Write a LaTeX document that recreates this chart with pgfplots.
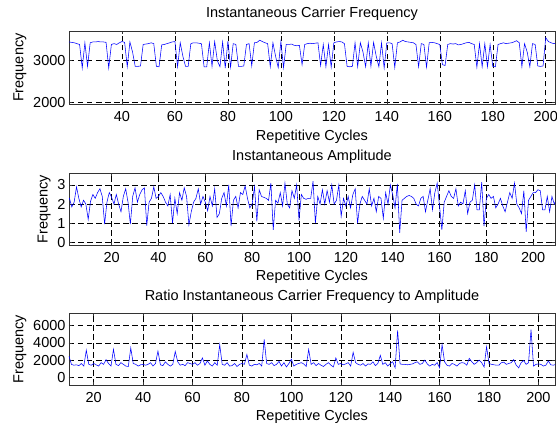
\documentclass[border=0pt]{standalone}
\usepackage{fontspec}
\setmainfont{Liberation Sans}
\usepackage{pgfplots}
\pgfplotsset{compat=1.18}

\definecolor{sigblue}{rgb}{0,0,1}
\pgfplotsset{
  sigpanel/.style={
    scale only axis, width=486pt, height=72pt, anchor=south west,
    font=\fontsize{14.5}{17}\selectfont,
    /pgf/number format/assume math mode=true,
    /pgf/number format/1000 sep={},
    scaled y ticks=false, scaled x ticks=false,
    no markers,
    grid=major,
    major grid style={black, line width=0.5pt, dash pattern=on 5.5pt off 3.5pt},
    axis line style={black!80, line width=0.6pt},
    tick style={black!80, line width=0.5pt},
    tick align=inside, major tick length=3pt,
    title style={anchor=base, yshift=7pt},
    xlabel style={at={(axis description cs:0.5,0)}, anchor=base, yshift=-36pt},
    xticklabel style={anchor=base, yshift=-17.5pt},
    xlabel={Repetitive Cycles}, ylabel={Frequency},
  },
  sig/.style={color=sigblue, line width=0.55pt, mark=none},
}

\begin{document}
\begin{tikzpicture}[x=1pt,y=1pt]
\path[use as bounding box] (0,0) rectangle (557,427);

% carrier frequency
\begin{axis}[sigpanel, at={(69pt,322.7pt)}, height=73.3pt,
  xmin=20, xmax=203.5, ymin=1960, ymax=3700,
  xtick={40,60,...,200}, ytick={2000,3000},
  title={Instantaneous Carrier Frequency}]
\addplot[sig] coordinates {
(20,3440)(21,3430)(22,3420)(23,3400)(24,3380)(25,2820)(26,3420)(27,2860)(28,3420)(29,3440)
(30,3440)(31,3450)(32,3440)(33,3440)(34,3430)(35,2820)(36,3380)(37,3400)(38,3380)(39,3420)
(40,3450)(41,3430)(42,2850)(43,3440)(44,3200)(45,2860)(46,2860)(47,2870)(48,3380)(49,3390)
(50,3400)(51,3420)(52,3400)(53,2860)(54,2850)(55,3370)(56,3380)(57,3400)(58,3420)(59,3440)
(60,3450)(61,2850)(62,3420)(63,3100)(64,2860)(65,2860)(66,3400)(67,3420)(68,3420)(69,3410)
(70,3400)(71,2850)(72,2850)(73,3420)(74,2860)(75,3450)(76,3000)(77,2850)(78,3440)(79,2820)
(80,3460)(81,2840)(82,3400)(83,3380)(84,2860)(85,2860)(86,2870)(87,3380)(88,3400)(89,2870)
(90,3420)(91,3430)(92,3480)(93,3450)(94,3420)(95,3400)(96,2850)(97,3420)(98,3100)(99,2830)
(100,3450)(101,2830)(102,3380)(103,3380)(104,3390)(105,3360)(106,3350)(107,3360)(108,2900)(109,3380)
(110,3400)(111,3410)(112,3400)(113,3410)(114,3420)(115,2880)(116,3380)(117,2850)(118,3380)(119,2840)
(120,3420)(121,3440)(122,3450)(123,3440)(124,3400)(125,2860)(126,2850)(127,2860)(128,3420)(129,2850)
(130,3420)(131,3200)(132,2850)(133,3420)(134,2860)(135,3430)(136,3100)(137,2850)(138,3420)(139,2820)
(140,3420)(141,3420)(142,3400)(143,2830)(144,3420)(145,3440)(146,3480)(147,3450)(148,3440)(149,3430)
(150,3420)(151,3380)(152,2850)(153,3400)(154,3380)(155,2840)(156,3420)(157,3430)(158,3420)(159,3400)
(160,3380)(161,2900)(162,2880)(163,3380)(164,3400)(165,3390)(166,3400)(167,3370)(168,3380)(169,3400)
(170,3420)(171,3430)(172,3400)(173,3380)(174,2840)(175,3400)(176,2850)(177,3400)(178,2850)(179,3380)
(180,2860)(181,2850)(182,3380)(183,3400)(184,3420)(185,3400)(186,3410)(187,3420)(188,3440)(189,3470)
(190,3420)(191,2850)(192,3400)(193,3200)(194,2850)(195,3400)(196,3380)(197,2870)(198,2860)(199,2870)
(200,3540)(201,3450)(202,3420)(203,3400)(204,3410)
};
\end{axis}

% amplitude
\begin{axis}[sigpanel, at={(69pt,182pt)}, height=71.7pt,
  xmin=1.8, xmax=209.3, ymin=-0.14, ymax=3.61,
  xtick={20,40,...,200}, ytick={0,1,2,3},
  title={Instantaneous Amplitude}]
\addplot[sig] coordinates {
(1,2.2)(2,2.3)(3,1.85)(4,2.1)(5,2.9)(6,2.3)(7,1.85)(8,2.2)(9,2.0)
(10,1.2)(11,2.15)(12,2.5)(13,2.3)(14,2.6)(15,2.8)(16,2.4)(17,0.95)(18,2.1)(19,2.6)
(20,2.35)(21,2.0)(22,2.5)(23,2.0)(24,1.6)(25,2.4)(26,2.8)(27,2.1)(28,0.95)(29,2.4)
(30,2.85)(31,2.1)(32,2.5)(33,2.75)(34,2.85)(35,0.88)(36,2.1)(37,2.3)(38,2.9)(39,2.3)
(40,2.4)(41,2.6)(42,2.4)(43,2.1)(44,1.9)(45,2.5)(46,1.0)(47,2.3)(48,1.5)(49,2.6)
(50,2.2)(51,2.85)(52,2.4)(53,0.92)(54,1.6)(55,2.1)(56,2.3)(57,2.8)(58,2.0)(59,2.4)
(60,2.1)(61,1.65)(62,2.4)(63,1.9)(64,2.8)(65,1.3)(66,1.5)(67,2.3)(68,2.6)(69,1.9)
(70,3.0)(71,0.85)(72,2.2)(73,2.4)(74,1.8)(75,2.6)(76,2.5)(77,2.95)(78,2.3)(79,1.8)
(80,2.0)(81,2.9)(82,1.1)(83,2.75)(84,2.4)(85,2.35)(86,2.3)(87,2.2)(88,3.1)(89,0.65)
(90,2.2)(91,2.05)(92,2.6)(93,1.9)(94,3.1)(95,2.0)(96,1.8)(97,2.7)(98,2.3)(99,3.0)
(100,1.15)(101,2.5)(102,2.3)(103,2.25)(104,2.3)(105,2.3)(106,3.2)(107,1.0)(108,2.4)(109,2.0)
(110,2.75)(111,2.0)(112,2.7)(113,2.1)(114,3.0)(115,2.0)(116,2.2)(117,3.0)(118,1.35)(119,2.3)
(120,1.9)(121,2.4)(122,1.8)(123,2.5)(124,2.8)(125,1.0)(126,2.0)(127,2.4)(128,2.2)(129,2.0)
(130,2.8)(131,1.9)(132,2.3)(133,1.6)(134,2.4)(135,2.3)(136,1.25)(137,2.6)(138,2.0)(139,3.0)
(140,2.5)(141,1.8)(142,3.05)(143,0.5)(144,2.2)(145,2.3)(146,2.4)(147,2.45)(148,2.4)(149,2.3)
(150,2.0)(151,1.9)(152,2.3)(153,2.4)(154,1.6)(155,2.2)(156,2.8)(157,1.7)(158,2.6)(159,3.1)
(160,1.9)(161,0.65)(162,2.1)(163,2.4)(164,2.7)(165,2.4)(166,2.3)(167,2.8)(168,1.9)(169,2.1)
(170,2.0)(171,2.7)(172,1.5)(173,2.1)(174,2.2)(175,3.0)(176,1.7)(177,1.7)(178,3.15)(179,0.85)
(180,2.3)(181,2.5)(182,2.3)(183,2.4)(184,1.8)(185,2.0)(186,2.3)(187,1.9)(188,1.6)(189,2.1)
(190,2.6)(191,2.3)(192,3.1)(193,2.0)(194,1.8)(195,1.5)(196,2.7)(197,0.55)(198,2.2)(199,2.4)
(200,2.6)(201,2.6)(202,2.75)(203,2.7)(204,1.7)(205,1.7)(206,2.4)(207,1.6)(208,2.4)(209,2.0)
(210,2.3)
};
\end{axis}

% ratio of carrier frequency to amplitude
\begin{axis}[sigpanel, at={(69pt,42pt)}, height=71.7pt,
  xmin=10, xmax=206.7, ymin=-900, ymax=7440,
  xtick={20,40,...,200}, ytick={0,2000,4000,6000},
  title={Ratio Instantaneous Carrier Frequency to Amplitude}]
\addplot[sig] coordinates {
(10,2450)(11,1500)(12,1400)(13,1450)(14,1350)(15,1600)(16,1300)(17,3150)(18,1500)(19,1400)
(20,1600)(21,1450)(22,1300)(23,1700)(24,1500)(25,2050)(26,1600)(27,1300)(28,3250)(29,1500)
(30,1350)(31,1700)(32,1500)(33,1300)(34,1250)(35,3400)(36,1600)(37,1500)(38,1300)(39,1450)
(40,1500)(41,1400)(42,1500)(43,1700)(44,1300)(45,1600)(46,3050)(47,1450)(48,1350)(49,1800)
(50,1500)(51,1300)(52,1500)(53,3000)(54,1800)(55,1400)(56,1500)(57,1350)(58,1700)(59,1600)
(60,1500)(61,1700)(62,1400)(63,1600)(64,2250)(65,1400)(66,1900)(67,1500)(68,1300)(69,1700)
(70,1400)(71,3800)(72,1500)(73,1400)(74,1700)(75,1300)(76,1350)(77,1600)(78,1250)(79,1500)
(80,1600)(81,1500)(82,2650)(83,1400)(84,1300)(85,1500)(86,1450)(87,1600)(88,1300)(89,4400)
(90,1600)(91,1500)(92,1700)(93,1350)(94,1500)(95,1850)(96,1300)(97,1700)(98,1200)(99,1600)
(100,2100)(101,1300)(102,1500)(103,1600)(104,1700)(105,1550)(106,1250)(107,3250)(108,1500)(109,1700)
(110,1350)(111,1600)(112,1400)(113,1250)(114,1500)(115,1700)(116,1400)(117,1200)(118,2250)(119,1500)
(120,1600)(121,1450)(122,1550)(123,1700)(124,1300)(125,2900)(126,1700)(127,1500)(128,1400)(129,1600)
(130,1300)(131,1550)(132,1500)(133,1800)(134,1350)(135,1600)(136,2550)(137,1500)(138,1700)(139,1300)
(140,1600)(141,1800)(142,1100)(143,5450)(144,1550)(145,1500)(146,1500)(147,1450)(148,1500)(149,1550)
(150,1700)(151,1800)(152,1500)(153,1600)(154,2000)(155,1550)(156,1300)(157,1500)(158,1400)(159,1700)
(160,1100)(161,3800)(162,1800)(163,1400)(164,1300)(165,1600)(166,1500)(167,1300)(168,1600)(169,1700)
(170,1650)(171,1400)(172,2200)(173,1800)(174,1500)(175,1700)(176,2000)(177,1700)(178,1200)(179,3550)
(180,1600)(181,1500)(182,1450)(183,1400)(184,1400)(185,1700)(186,1750)(187,1500)(188,1600)(189,1700)
(190,2050)(191,1400)(192,1100)(193,1700)(194,1950)(195,1500)(196,1700)(197,5550)(198,1300)(199,1500)
(200,1550)(201,1500)(202,1300)(203,1400)(204,1900)(205,1450)(206,1400)(207,1500)
};
\end{axis}
\end{tikzpicture}
\end{document}
